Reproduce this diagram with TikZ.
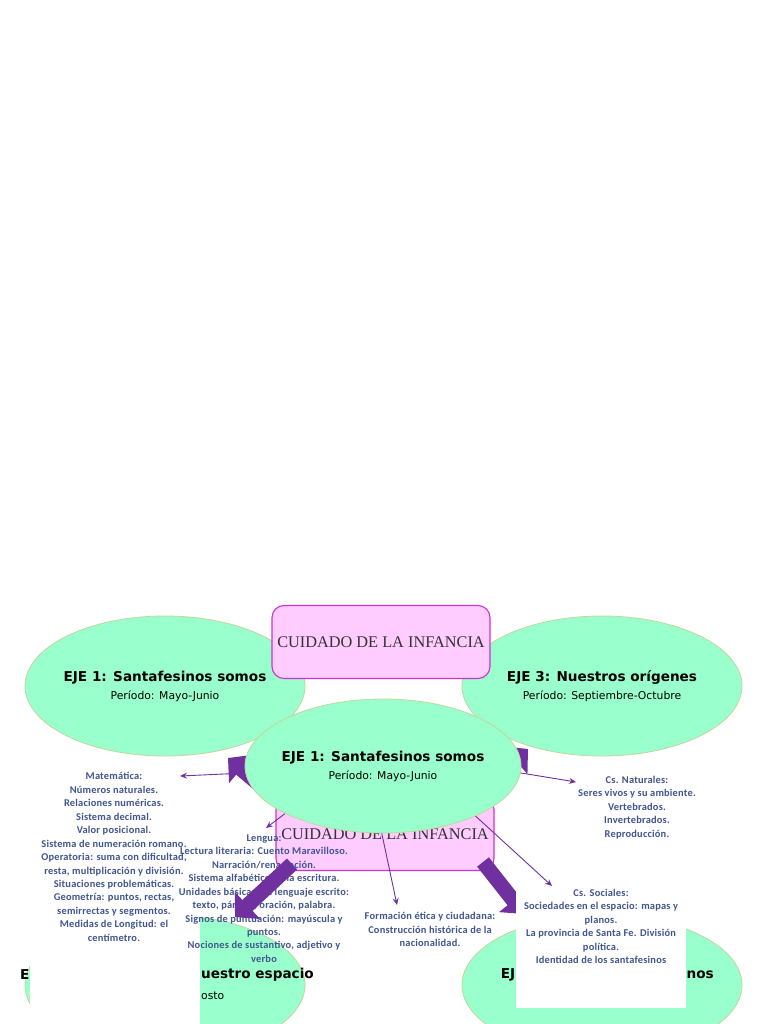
\documentclass[tikz,border=0pt]{standalone}
\usepackage{fontspec}
\setmainfont{Liberation Serif}
\newfontfamily\ejefont{DejaVu Sans}
\newfontfamily\txtfont[LetterSpace=2]{Carlito}
\usetikzlibrary{arrows.meta,shapes.geometric}
\definecolor{mint}{HTML}{99FFCC}
\definecolor{mintline}{HTML}{C3D69B}
\definecolor{pinkfill}{HTML}{FFCCFF}
\definecolor{pinkline}{HTML}{CC33CC}
\definecolor{purp}{HTML}{7030A0}
\definecolor{bluetxt}{HTML}{41558F}
\newcommand\ejetext[2]{{\bfseries\fontsize{13.6}{15}\selectfont #1}\\[3pt]{\fontsize{10.8}{15}\selectfont #2}}
\tikzset{
  eje/.style={ellipse, fill=mint, draw=mintline, line width=0.8pt, minimum width=280pt, minimum height=140pt, inner xsep=-6pt, inner ysep=0pt, align=center, font=\ejefont\fontsize{11}{15}\selectfont},
  ejefrag/.style={inner sep=0pt, font=\ejefont\bfseries\fontsize{13.6}{15}\selectfont},
  ejesub/.style={inner sep=0pt, font=\ejefont\fontsize{10.8}{15}\selectfont},
  hub/.style={rounded corners=12pt, fill=pinkfill, draw=pinkline, line width=1.1pt, minimum width=218pt, minimum height=73pt, inner sep=0pt, font=\fontsize{16.3}{18}\selectfont, text=black!80},
  info/.style={align=center, text=bluetxt, inner sep=0pt, font=\txtfont\bfseries\fontsize{10.4}{13.45}\selectfont},
  thinarrow/.style={draw=purp, line width=0.9pt, -{Stealth[length=7pt,width=6pt,inset=2.5pt]}},
  blockarrow/.style={draw=purp, line width=15pt, -{Triangle[length=17pt,width=36pt]}},
  panel/.style={fill=white, draw=none}
}
\begin{document}
\begin{tikzpicture}[x=1pt,y=-1pt]
\useasboundingbox (0,0) rectangle (768,1024);
\fill[white] (0,0) rectangle (768,1024);
\clip (0,0) rectangle (768,1024);

% outer ellipses
\node[eje] (e1) at (165,686) {\ejetext{EJE 1: Santafesinos somos}{Período: Mayo-Junio}};
\node[eje] (e3) at (602,686) {\ejetext{EJE 3: Nuestros orígenes}{Período: Septiembre-Octubre}};
\node[eje] (e2) at (165,985) {};
\node[eje] (e4) at (602,985) {};

% top hub
\node[hub] (hub1) at (381,642) {CUIDADO DE LA INFANCIA};

% Matematica panel and text
\fill[panel] (30,768) rectangle (200,1030);
\node[info] (mate) at (114,857) {Matemática:\\Números naturales.\\Relaciones numéricas.\\Sistema decimal.\\Valor posicional.\\Sistema de numeración romano.\\Operatoria: suma con dificultad,\\resta, multiplicación y división.\\Situaciones problemáticas.\\Geometría: puntos, rectas,\\semirrectas y segmentos.\\Medidas de Longitud: el\\centímetro.};

% coordinates for connectors
\coordinate (sMate) at (246,773);
\coordinate (tMate) at (180,776);
\coordinate (sLeng) at (295,806);
\coordinate (tLeng) at (266,828);
\coordinate (sForm) at (380,825);
\coordinate (tForm) at (397,905);
\coordinate (sNat) at (515,772);
\coordinate (tNat) at (576,782);
\coordinate (sSoc) at (470,811);
\coordinate (tSoc) at (552,886);
\coordinate (ulTail) at (292,812);
\coordinate (ulTip) at (228,758);
\coordinate (urTail) at (470,800);
\coordinate (urTip) at (528,749);
\coordinate (dlTail) at (292,864);
\coordinate (dlTip) at (235,917);
\coordinate (drTail) at (483,862);
\coordinate (drTip) at (524,914);

\draw[thinarrow] (sMate) -- (tMate);

% upper block arrows (behind second hub and middle ellipse)
\draw[blockarrow] (ulTail) -- (ulTip);
\draw[blockarrow] (urTail) -- (urTip);

% second hub
\node[hub] (hub2) at (385,834) {CUIDADO DE LA INFANCIA};

% texts
\node[info] (leng) at (264,898.5) {Lengua:\\Lectura literaria: Cuento Maravilloso.\\Narración/renarración.\\Sistema alfabético de la escritura.\\Unidades básicas del lenguaje escrito:\\texto, párrafo, oración, palabra.\\Signos de puntuación: mayúscula y\\puntos.\\Nociones de sustantivo, adjetivo y\\verbo};
\node[info] (form) at (430,929.5) {Formación ética y ciudadana:\\Construcción histórica de la\\nacionalidad.};
\node[info] (nat) at (637,807.5) {Cs. Naturales:\\Seres vivos y su ambiente.\\Vertebrados.\\Invertebrados.\\Reproducción.};

\draw[thinarrow] (sLeng) -- (tLeng);
\draw[thinarrow] (sForm) -- (tForm);
\draw[thinarrow] (sNat) -- (tNat);

% lower block arrows
\draw[blockarrow] (dlTail) -- (dlTip);
\draw[blockarrow] (drTail) -- (drTip);

% Sociales panel
\fill[panel] (516,883) rectangle (686,1008);
\node[info] (soc) at (601,926.5) {Cs. Sociales:\\Sociedades en el espacio: mapas y\\planos.\\La provincia de Santa Fe. División\\política.\\Identidad de los santafesinos};
\draw[thinarrow] (sSoc) -- (tSoc);

% middle ellipse
\node[eje, minimum width=276pt, minimum height=134pt] (mid) at (383,766) {\ejetext{EJE 1: Santafesinos somos}{Período: Mayo-Junio}};

% visible fragments of the lower ellipses' texts
\node[ejefrag, anchor=east] (f1) at (29.5,975) {E};
\node[ejefrag, anchor=west] (f2) at (201,975) {uestro espacio};
\node[ejesub, anchor=west] (f3) at (201,996) {osto};
\node[ejefrag, anchor=east] (f4) at (515.5,975) {EJ};
\node[ejefrag, anchor=west] (f5) at (686.5,975) {nos};
\end{tikzpicture}
\end{document}
